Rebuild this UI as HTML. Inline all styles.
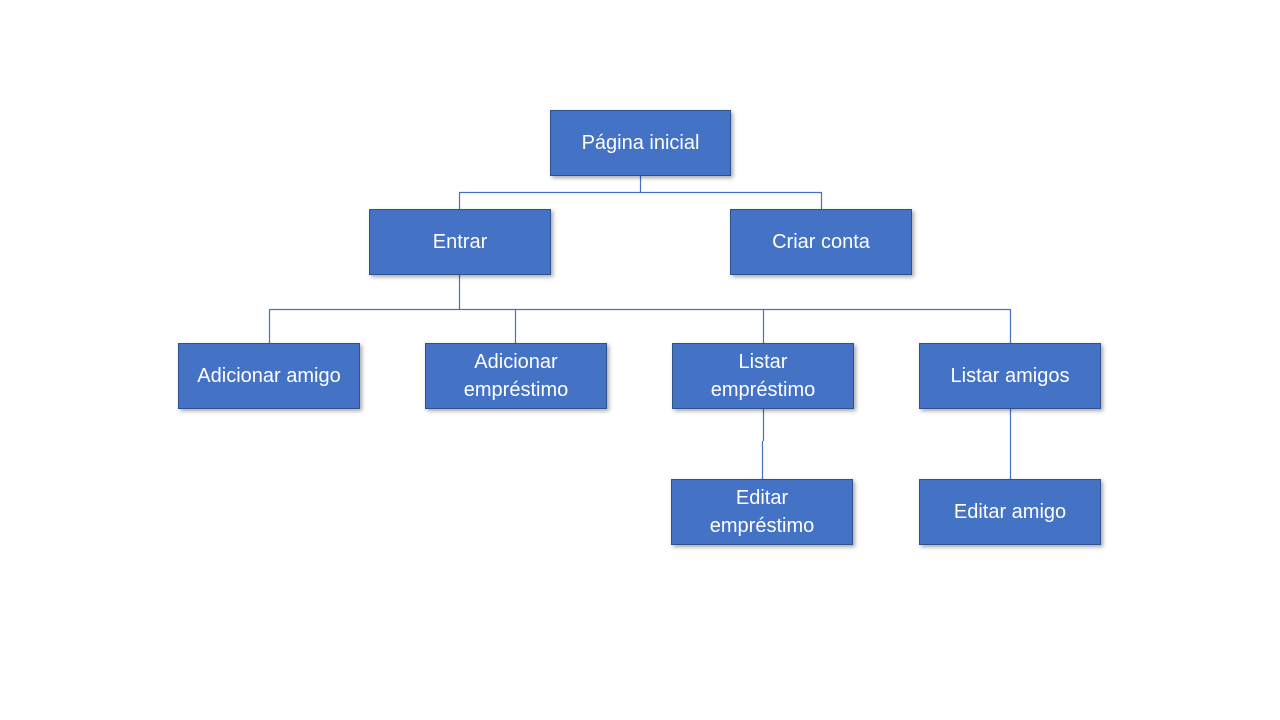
<!DOCTYPE html>
<html><head><meta charset="utf-8"><style>
body{margin:0;width:1280px;height:720px;background:#fff;position:relative;overflow:hidden;font-family:"Liberation Sans",sans-serif}
.b{position:absolute;width:180px;height:64px;background:#4472C4;border:1px solid #2F528F;box-sizing:border-box;color:#fff;font-size:20px;line-height:28px;display:flex;align-items:center;justify-content:center;text-align:center;box-shadow:2px 2px 4px rgba(0,0,0,0.35)}
svg{position:absolute;left:0;top:0}
</style></head><body>
<svg width="1280" height="720"><g stroke="#4472C4" stroke-width="1.2" fill="none">
<path d="M640.5 176V192.5H459.5V209M640.5 192.5H821.5V209"/>
<path d="M459.5 275V309.5H269.5V343M459.5 309.5H1010.5V343M515.5 309.5V343M763.5 309.5V343"/>
<path d="M763.5 409V441M762.5 441V479"/>
<path d="M1010.5 409V479"/>
</g></svg>
<div class="b" style="left:550px;top:110px;width:181px;height:66px">Página inicial</div>
<div class="b" style="left:369px;top:209px;width:182px;height:66px">Entrar</div>
<div class="b" style="left:730px;top:209px;width:182px;height:66px">Criar conta</div>
<div class="b" style="left:178px;top:343px;width:182px;height:66px">Adicionar amigo</div>
<div class="b" style="left:425px;top:343px;width:182px;height:66px">Adicionar<br>empréstimo</div>
<div class="b" style="left:672px;top:343px;width:182px;height:66px">Listar<br>empréstimo</div>
<div class="b" style="left:919px;top:343px;width:182px;height:66px">Listar amigos</div>
<div class="b" style="left:671px;top:479px;width:182px;height:66px">Editar<br>empréstimo</div>
<div class="b" style="left:919px;top:479px;width:182px;height:66px">Editar amigo</div>
</body></html>
